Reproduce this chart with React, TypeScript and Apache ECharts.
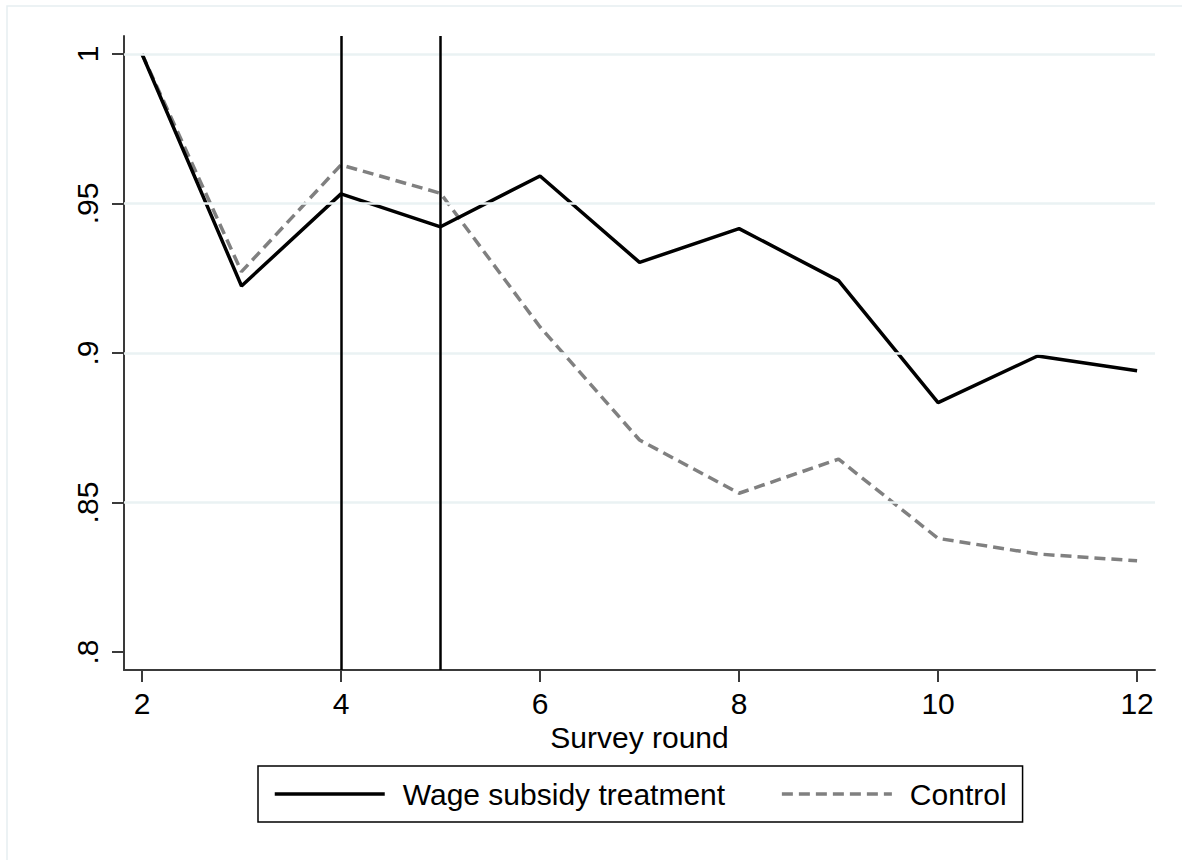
import React, { useEffect, useRef } from "react";
import * as echarts from "echarts";

const rounds = [2, 3, 4, 5, 6, 7, 8, 9, 10, 11, 12];
const treatment = [1.0, 0.9224, 0.9532, 0.9422, 0.9592, 0.9303, 0.9416, 0.9242, 0.8834, 0.899, 0.8941];
const control = [1.0, 0.9272, 0.9629, 0.9534, 0.9087, 0.8709, 0.8531, 0.8645, 0.838, 0.8328, 0.8305];
const xTicks = [2, 4, 6, 8, 10, 12];
const yTicks = [0.8, 0.85, 0.9, 0.95, 1];
const yTickLabels: Record<string, string> = { "0.8": ".8", "0.85": ".85", "0.9": ".9", "0.95": ".95", "1": "1" };
const gridValues = [0.85, 0.9, 0.95, 1];
const periodLines = [4, 5];
const seriesNames = ["Wage subsidy treatment", "Control"];

const FONT = "Liberation Sans, Arial, Helvetica, sans-serif";

export default function App() {
  const ref = useRef<HTMLDivElement>(null);
  useEffect(() => {
    document.body.style.margin = "0";
    const chart = echarts.init(ref.current!, null, { renderer: "svg" });
    const option: any = {
      animation: false,
      backgroundColor: "#ffffff",
      textStyle: { fontFamily: FONT },
      graphic: [
        {
          type: "rect",
          shape: { x: 7, y: 6, width: 1200, height: 900 },
          style: { fill: "none", stroke: "#e6eef1", lineWidth: 1.5 },
          silent: true,
          z: -1,
        },
      ],
      grid: { left: 124, right: 27, top: 36, bottom: 190, containLabel: false },
      legend: {
        left: 258,
        top: 766,
        orient: "horizontal",
        data: seriesNames,
        itemWidth: 110,
        itemHeight: 14,
        itemGap: 55,
        padding: [13, 16, 13, 15],
        borderColor: "#000000",
        borderWidth: 1.5,
        borderRadius: 0,
        itemStyle: { opacity: 0 },
        lineStyle: { width: 3.5 },
        textStyle: { fontSize: 30, color: "#000", fontFamily: FONT, padding: [0, 0, 0, 13] },
        selectedMode: false,
      },
      xAxis: {
        type: "value",
        min: 1.819,
        max: 12.18,
        name: "Survey round",
        nameLocation: "middle",
        nameGap: 48,
        nameTextStyle: { fontSize: 30, color: "#000", fontFamily: FONT },
        axisLine: { show: true, lineStyle: { color: "#3a3a3a", width: 2 } },
        axisTick: { show: true, length: 12, lineStyle: { color: "#3a3a3a", width: 2 }, customValues: xTicks },
        axisLabel: { fontSize: 30, color: "#000", margin: 18, fontFamily: FONT, customValues: xTicks },
        splitLine: { show: false },
      },
      yAxis: {
        type: "value",
        min: 0.794,
        max: 1.006,
        axisLine: { show: true, lineStyle: { color: "#3a3a3a", width: 2 } },
        axisTick: { show: true, length: 12, lineStyle: { color: "#3a3a3a", width: 2 }, customValues: yTicks },
        axisLabel: {
          fontSize: 30,
          color: "#000",
          rotate: 90,
          margin: 22,
          fontFamily: FONT,
          customValues: yTicks,
          formatter: (v: number) => yTickLabels[String(Math.round(v * 100) / 100)] ?? String(v),
        },
        splitLine: { show: false },
      },
      series: [
        {
          name: "gridlines",
          type: "line",
          data: [],
          silent: true,
          markLine: {
            silent: true,
            symbol: "none",
            label: { show: false },
            lineStyle: { color: "#eaf2f3", width: 2.5, type: "solid" },
            data: gridValues.map((v) => ({ yAxis: v })),
          },
          z: 0,
        },
        {
          name: seriesNames[0],
          type: "line",
          data: rounds.map((r, i) => [r, treatment[i]]),
          symbol: "none",
          lineStyle: { color: "#000000", width: 3.5, type: "solid" },
          itemStyle: { color: "#000000" },
          z: 4,
          markLine: {
            silent: true,
            symbol: "none",
            label: { show: false },
            lineStyle: { color: "#000000", width: 2.5, type: "solid" },
            data: periodLines.map((v) => ({ xAxis: v })),
          },
        },
        {
          name: seriesNames[1],
          type: "line",
          data: rounds.map((r, i) => [r, control[i]]),
          symbol: "none",
          lineStyle: { color: "#808080", width: 3.5, type: [11, 6] },
          itemStyle: { color: "#808080" },
          z: 3,
        },
      ],
    };
    chart.setOption(option);
    return () => chart.dispose();
  }, []);
  return <div ref={ref} style={{ position: "absolute", left: 0, top: 0, width: 1182, height: 860 }} />;
}
